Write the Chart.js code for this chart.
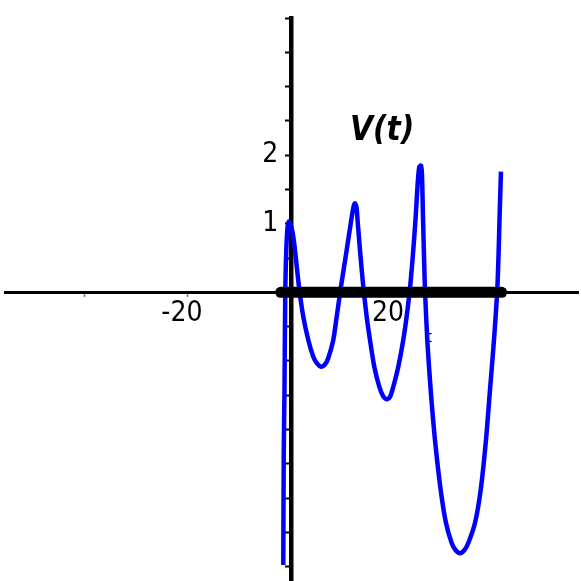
<!DOCTYPE html>
<html>
<head>
<meta charset="utf-8">
<script src="https://cdn.jsdelivr.net/npm/chart.js@4/dist/chart.umd.min.js"></script>
<style>
  html, body { margin: 0; padding: 0; background: #fff; }
  #c { display: block; }
</style>
</head>
<body>
<canvas id="c" width="581" height="581"></canvas>
<script>
// ---- data ----
const tValues = [-1.494, -1.397, -1.261, -1.106, -0.912, -0.679, -0.388,
  0.291, 0.776, 1.553, 2.387, 3.357, 4.328, 5.046, 5.822, 6.598, 7.239, 8.209, 8.869, 9.703,
  10.809, 11.644, 12.129, 12.420, 12.711, 12.944, 13.390, 14.031, 14.690, 15.331, 16.165,
  17.136, 17.854, 18.572, 19.212, 19.853, 20.823, 21.793, 22.608, 23.190, 23.734, 24.200,
  24.588, 24.898, 25.228, 25.422, 25.616, 25.869, 26.004, 26.451, 27.110, 27.945, 29.051,
  30.080, 31.186, 31.923, 32.797, 33.670, 34.407, 35.707, 36.813, 37.842, 38.618, 39.394,
  40.035, 40.307, 40.520, 40.753];
const vValues = [-3.976, -2.300, -1.425, 0.034, 0.617, 0.938, 1.032,
  0.879, 0.617, 0.082, -0.356, -0.695, -0.939, -1.038, -1.085, -1.053, -0.958, -0.695, -0.356, 0.082,
  0.617, 1.029, 1.244, 1.298, 1.244, 1.029, 0.617, 0.082, -0.356, -0.695, -1.085,
  -1.377, -1.512, -1.561, -1.527, -1.377, -1.085, -0.695, -0.258, 0.131, 0.617, 1.102,
  1.589, 1.827, 1.849, 1.710, 1.102, 0.373, 0.034, -0.695, -1.425, -2.154, -2.883,
  -3.364, -3.656, -3.758, -3.806, -3.758, -3.656, -3.364, -2.883, -2.154, -1.425, -0.695,
  0.034, 0.617, 1.200, 1.759];

const thickT = [-2.0, 40.9];
const thickV = [0, 0];

const xTickValues = [-40, -20, 20, 40];
const xTickLabels = ['', '-20', '20', ''];
const yTickValues = [-4, -3.5, -3, -2.5, -2, -1.5, -1, -0.5, 0.5, 1, 1.5, 2, 2.5, 3, 3.5, 4];
const yTickLabels = ['', '', '', '', '', '', '', '', '', '1', '', '2', '', '', '', ''];

const chartTitle = 'V(t)';
const axisTitle = 't';

// ---- chart ----
const FONT = "'DejaVu Sans Condensed', 'DejaVu Sans', sans-serif";

const curve = tValues.map((t, i) => ({ x: t, y: vValues[i] }));
const thick = thickT.map((t, i) => ({ x: t, y: thickV[i] }));

const textPlugin = {
  id: 'texts',
  beforeDatasetsDraw(chart) {
    const ctx = chart.ctx, xs = chart.scales.x, ys = chart.scales.y;
    ctx.save();
    ctx.font = "16px " + FONT;
    ctx.fillStyle = '#000';
    ctx.textAlign = 'center';
    ctx.textBaseline = 'alphabetic';
    ctx.fillText(axisTitle, xs.getPixelForValue(26.8), ys.getPixelForValue(-0.72));
    ctx.restore();
  },
  afterDraw(chart) {
    const ctx = chart.ctx, xs = chart.scales.x, ys = chart.scales.y;
    ctx.save();
    ctx.font = "italic bold 33px " + FONT;
    ctx.fillStyle = '#000';
    ctx.textAlign = 'left';
    ctx.textBaseline = 'alphabetic';
    ctx.fillText(chartTitle, xs.getPixelForValue(11.45), ys.getPixelForValue(2.22));
    ctx.restore();
  }
};

new Chart(document.getElementById('c'), {
  type: 'line',
  data: {
    datasets: [
      { data: thick, borderColor: '#000', borderWidth: 11, borderCapStyle: 'round',
        pointRadius: 0, fill: false },
      { data: curve, borderColor: '#0000FF', borderWidth: 4.5, borderJoinStyle: 'round',
        tension: 0.25, pointRadius: 0, fill: false }
    ]
  },
  options: {
    responsive: false,
    animation: false,
    devicePixelRatio: 1,
    layout: { padding: { left: 5, right: 3, top: 18, bottom: 0 } },
    plugins: { legend: { display: false }, tooltip: { enabled: false }, title: { display: false } },
    scales: {
      x: {
        type: 'linear', min: -55.5, max: 55.7, position: { y: 0 }, z: 0,
        afterBuildTicks: s => { s.ticks = xTickValues.map(v => ({ value: v })); },
        ticks: {
          autoSkip: false, maxRotation: 0, padding: 2, labelOffset: -6, color: '#000',
          font: { family: FONT, size: 28 },
          callback: (v, i) => (xTickLabels[i] ? xTickLabels[i] : [])
        },
        grid: { drawOnChartArea: false, drawTicks: true, tickLength: 3, tickWidth: 1.5, tickColor: '#777' },
        border: { display: true, color: '#000', width: 3 }
      },
      y: {
        type: 'linear', min: -4.21, max: 4.0, position: { x: 0 }, z: 1,
        afterBuildTicks: s => { s.ticks = yTickValues.map(v => ({ value: v })); },
        ticks: {
          autoSkip: false, padding: 0, color: '#000',
          font: { family: FONT, size: 28 },
          callback: (v, i) => (yTickLabels[i] ? yTickLabels[i] + '\u2002' : [])
        },
        grid: { drawOnChartArea: false, drawTicks: true, tickLength: 4, tickWidth: 2, tickColor: '#000' },
        border: { display: true, color: '#000', width: 4.5 }
      }
    }
  },
  plugins: [textPlugin]
});
</script>
</body>
</html>
